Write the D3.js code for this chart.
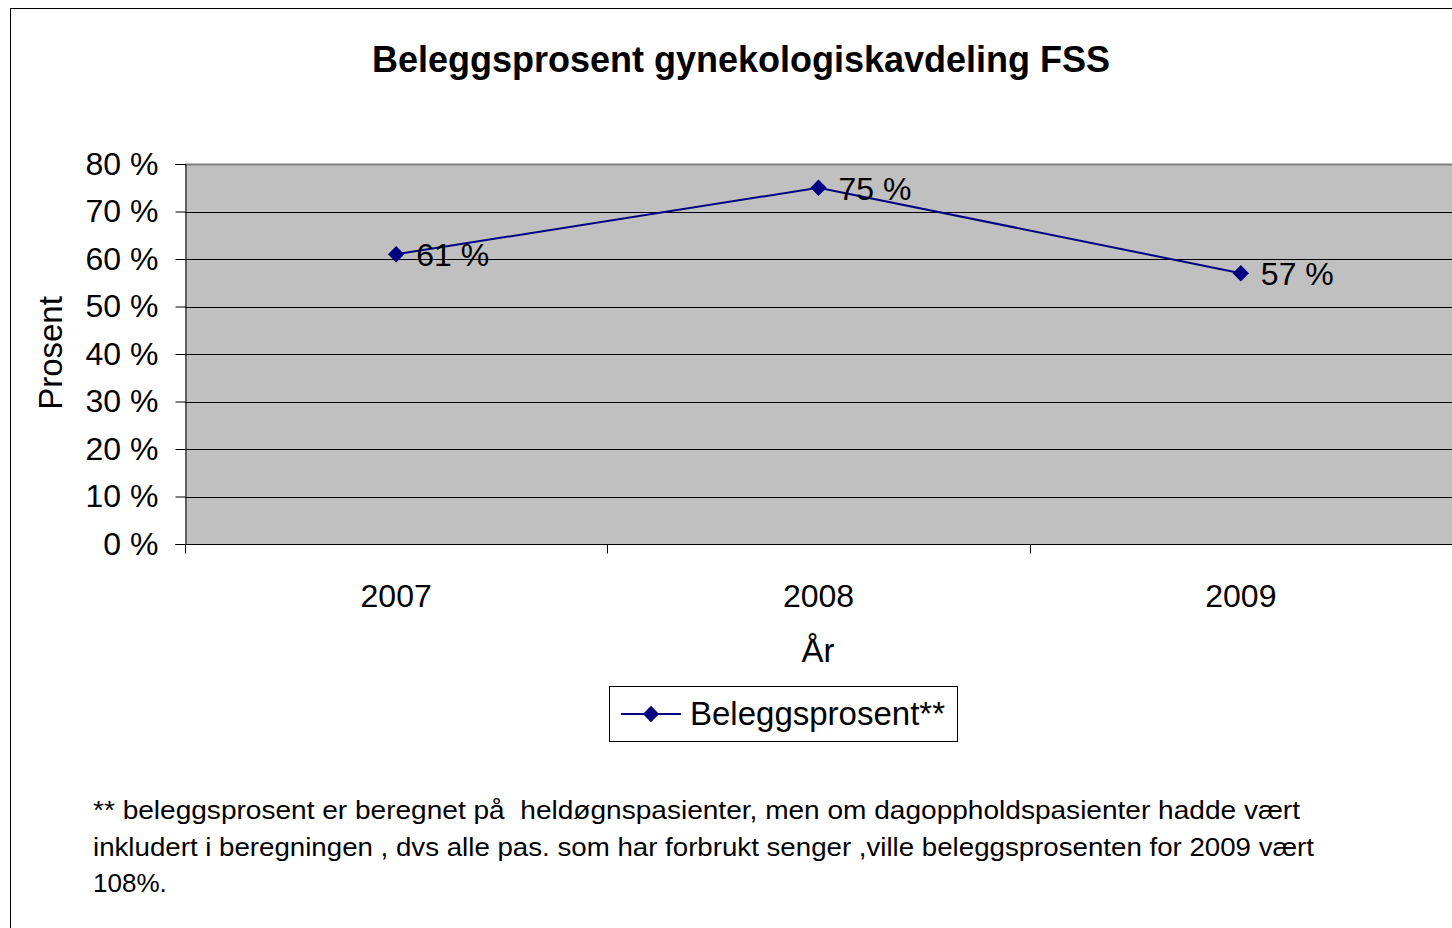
<!DOCTYPE html>
<html>
<head>
<meta charset="utf-8">
<script src="https://cdn.jsdelivr.net/npm/d3@7"></script>
<style>
  body { margin: 0; background: #fff; }
  text { font-family: "Liberation Sans", Arial, sans-serif; fill: #000; }
</style>
</head>
<body>
<div id="chart"></div>
<script>
// data
var years = ["2007", "2008", "2009"];
var occupancy = [61, 75, 57];
var yTicks = [0, 10, 20, 30, 40, 50, 60, 70, 80];
var seriesName = "Beleggsprosent**";
var chartTitle = "Beleggsprosent gynekologiskavdeling FSS";
var footnote = [
  "** beleggsprosent er beregnet på  heldøgnspasienter, men om dagoppholdspasienter hadde vært",
  "inkludert i beregningen , dvs alle pas. som har forbrukt senger ,ville beleggsprosenten for 2009 vært",
  "108%."
];
var footnoteWidths = [1207, 1221, 0];

var W = 1452, H = 928;
var svg = d3.select("#chart").append("svg").attr("width", W).attr("height", H);

// outer chart border (runs off the right and bottom edge)
svg.append("rect")
  .attr("x", 10.5).attr("y", 8.5)
  .attr("width", W + 20).attr("height", H + 20)
  .attr("fill", "#fff").attr("stroke", "#000").attr("stroke-width", 1);

var pLeft = 185, pRight = 1452, pTop = 164, pBottom = 544;

var x = d3.scaleBand().domain(years).range([pLeft, pRight]);
var y = d3.scaleLinear().domain([0, 80]).range([pBottom, pTop]);

// plot area
svg.append("rect")
  .attr("x", pLeft).attr("y", pTop)
  .attr("width", pRight - pLeft + 20).attr("height", pBottom - pTop)
  .attr("fill", "#c0c0c0");

// gridlines
svg.append("g").selectAll("line")
  .data(yTicks.filter(d => d > 0))
  .enter().append("line")
  .attr("x1", pLeft).attr("x2", W)
  .attr("y1", d => Math.round(y(d)) + 0.5).attr("y2", d => Math.round(y(d)) + 0.5)
  .attr("stroke", d => d === 80 ? "#808080" : "#000")
  .attr("stroke-width", d => d === 80 ? 2 : 1);

// y axis
var yAxis = d3.axisLeft(y).tickValues(yTicks).tickSize(10).tickPadding(17)
  .tickFormat(d => d + " %");
var gy = svg.append("g").attr("transform", "translate(" + (pLeft + 0.5) + ",0)").call(yAxis);
gy.select(".domain").attr("stroke", "#000");
gy.selectAll(".tick line").attr("stroke", "#000");
gy.selectAll("text").style("font-size", "32px").attr("fill", "#000")
  .style("font-family", "'Liberation Sans', Arial, sans-serif");

// x axis: ticks sit on the category borders
var gx = svg.append("g").attr("transform", "translate(0," + (pBottom + 0.5) + ")");
gx.append("line").attr("x1", pLeft).attr("x2", W).attr("stroke", "#000");
var borders = years.map(d => x(d)).concat([pRight]);
gx.selectAll(".bt").data(borders).enter().append("line")
  .attr("x1", d => Math.round(d) + 0.5).attr("x2", d => Math.round(d) + 0.5)
  .attr("y1", 0).attr("y2", 9).attr("stroke", "#000");
gx.selectAll(".lbl").data(years).enter().append("text")
  .attr("x", d => x(d) + x.bandwidth() / 2)
  .attr("y", 62)
  .attr("text-anchor", "middle")
  .style("font-size", "32px")
  .text(d => d);

// line + markers
var pts = years.map((d, i) => [x(d) + x.bandwidth() / 2, y(occupancy[i])]);
svg.append("path")
  .attr("d", d3.line()(pts))
  .attr("fill", "none").attr("stroke", "#000080").attr("stroke-width", 2);

var diamond = d3.symbol().type(d3.symbolDiamond2).size(170);
svg.selectAll(".mk").data(pts).enter().append("path")
  .attr("d", diamond)
  .attr("transform", d => "translate(" + d[0] + "," + d[1] + ")")
  .attr("fill", "#000080");

svg.selectAll(".dl").data(pts).enter().append("text")
  .attr("x", d => d[0] + 20)
  .attr("y", d => d[1] + 12)
  .style("font-size", "32px")
  .text((d, i) => occupancy[i] + " %");

// title and axis titles
svg.append("text")
  .attr("x", 741).attr("y", 72)
  .attr("text-anchor", "middle")
  .style("font-size", "36px").style("font-weight", "bold")
  .text(chartTitle);

svg.append("text")
  .attr("transform", "translate(62,353) rotate(-90)")
  .attr("text-anchor", "middle")
  .style("font-size", "33px")
  .text("Prosent");

svg.append("text")
  .attr("x", 818).attr("y", 662)
  .attr("text-anchor", "middle")
  .style("font-size", "33px")
  .text("År");

// legend
var lg = svg.append("g");
lg.append("rect")
  .attr("x", 609.5).attr("y", 686.5).attr("width", 348).attr("height", 55)
  .attr("fill", "#fff").attr("stroke", "#000");
lg.append("line")
  .attr("x1", 621).attr("x2", 681).attr("y1", 714).attr("y2", 714)
  .attr("stroke", "#000080").attr("stroke-width", 2);
lg.append("path").attr("d", diamond).attr("transform", "translate(651,714)").attr("fill", "#000080");
lg.append("text").attr("x", 690).attr("y", 725).style("font-size", "33px").text(seriesName);

// footnote
svg.selectAll(".fn").data(footnote).enter().append("text")
  .attr("x", 93)
  .attr("y", (d, i) => 819 + i * 36.5)
  .style("font-size", "26px")
  .style("white-space", "pre")
  .each(function(d, i) {
    if (footnoteWidths[i] > 0) d3.select(this).attr("textLength", footnoteWidths[i]).attr("lengthAdjust", "spacingAndGlyphs");
  })
  .text(d => d);
</script>
</body>
</html>
